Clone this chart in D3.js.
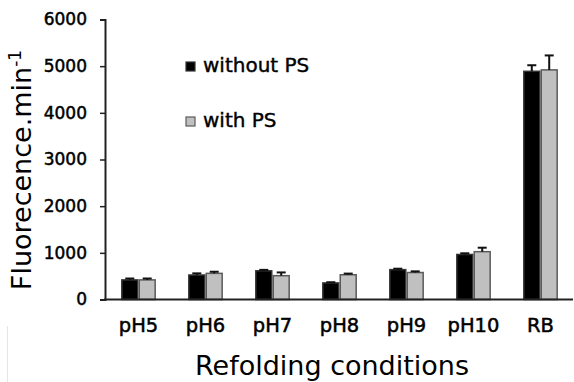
<!DOCTYPE html>
<html>
<head>
<meta charset="utf-8">
<script src="https://cdn.jsdelivr.net/npm/d3@7"></script>
<style>
  body { margin: 0; background: #fff; }
  text { font-family: "DejaVu Sans", sans-serif; fill: #000; }
</style>
</head>
<body>
<svg id="chart" width="574" height="382"></svg>
<script>
// data
var conditions = ["pH5", "pH6", "pH7", "pH8", "pH9", "pH10", "RB"];
var seriesNames = ["without PS", "with PS"];
var withoutPS = [420, 525, 615, 355, 640, 965, 4890];
var withoutPSErr = [30, 35, 20, 15, 20, 25, 130];
var withPS = [420, 560, 510, 530, 578, 1025, 4920];
var withPSErr = [30, 35, 70, 25, 25, 85, 310];
var yTicks = [0, 1000, 2000, 3000, 4000, 5000, 6000];

var colors = ["#000000", "#c0c0c0"];
var strokes = ["#333333", "#5a5a5a"];

var svg = d3.select("#chart");

var x0 = d3.scaleBand()
    .domain(conditions)
    .range([105, 574])
    .paddingInner(0.48)
    .paddingOuter(0.24);

var x1 = d3.scaleBand()
    .domain(seriesNames)
    .range([0, x0.bandwidth()]);

var y = d3.scaleLinear()
    .domain([0, 6000])
    .range([299.5, 19.5]);

var rows = conditions.map(function (c, i) {
    return {
        cond: c,
        vals: [
            { s: seriesNames[0], v: withoutPS[i], e: withoutPSErr[i], k: 0 },
            { s: seriesNames[1], v: withPS[i], e: withPSErr[i], k: 1 }
        ]
    };
});

// bars
var groups = svg.selectAll("g.grp").data(rows).enter()
    .append("g")
    .attr("class", "grp")
    .attr("transform", function (d) { return "translate(" + x0(d.cond) + ",0)"; });

groups.selectAll("rect").data(function (d) { return d.vals; }).enter()
    .append("rect")
    .attr("x", function (d) { return x1(d.s) + 0.75; })
    .attr("y", function (d) { return y(d.v); })
    .attr("width", x1.bandwidth() - 1.5)
    .attr("height", function (d) { return y(0) - y(d.v); })
    .attr("fill", function (d) { return colors[d.k]; })
    .attr("stroke", function (d) { return strokes[d.k]; })
    .attr("stroke-width", 1.5);

// error bars (upper half only)
var err = groups.selectAll("g.err").data(function (d) { return d.vals; }).enter()
    .append("g").attr("class", "err");

err.append("line")
    .attr("x1", function (d) { return x1(d.s) + x1.bandwidth() / 2; })
    .attr("x2", function (d) { return x1(d.s) + x1.bandwidth() / 2; })
    .attr("y1", function (d) { return y(d.v); })
    .attr("y2", function (d) { return y(d.v + d.e); })
    .attr("stroke", "#111")
    .attr("stroke-width", 2);

err.append("line")
    .attr("x1", function (d) { return x1(d.s) + x1.bandwidth() / 2 - 4.5; })
    .attr("x2", function (d) { return x1(d.s) + x1.bandwidth() / 2 + 4.5; })
    .attr("y1", function (d) { return y(d.v + d.e); })
    .attr("y2", function (d) { return y(d.v + d.e); })
    .attr("stroke", "#111")
    .attr("stroke-width", 2);

// y axis
var yAxis = svg.append("g")
    .attr("transform", "translate(105,0)")
    .call(d3.axisLeft(y).tickValues(yTicks).tickFormat(d3.format("d"))
        .tickSize(5).tickPadding(13).tickSizeOuter(5));
yAxis.select(".domain").attr("stroke", "#222").attr("stroke-width", 2);
yAxis.selectAll(".tick line").attr("stroke", "#222").attr("stroke-width", 1.5);
yAxis.selectAll("text")
    .style("font-size", "17px")
    .style("font-family", "'DejaVu Sans', sans-serif")
    .attr("fill", "#000")
    .attr("stroke", "#000")
    .attr("stroke-width", 0.5);

// x axis: line and labels, no tick marks
svg.append("line")
    .attr("x1", 104).attr("x2", 573)
    .attr("y1", y(0)).attr("y2", y(0))
    .attr("stroke", "#222").attr("stroke-width", 2);

svg.selectAll("text.xlab").data(conditions).enter()
    .append("text")
    .attr("class", "xlab")
    .attr("x", function (d) { return x0(d) + x0.bandwidth() / 2; })
    .attr("y", 332)
    .attr("text-anchor", "middle")
    .style("font-size", "19.5px")
    .attr("stroke", "#000")
    .attr("stroke-width", 0.5)
    .text(function (d) { return d; });

// axis titles
svg.append("text")
    .attr("x", 332)
    .attr("y", 375)
    .attr("text-anchor", "middle")
    .style("font-size", "27px")
    .text("Refolding conditions");

var yt = svg.append("text")
    .attr("transform", "translate(31,170) rotate(-90)")
    .attr("text-anchor", "middle")
    .style("font-size", "27px");
yt.append("tspan").text("Fluorecence.min");
yt.append("tspan").attr("baseline-shift", "super").style("font-size", "17px").text("-1");

// legend
var legend = svg.selectAll("g.leg").data(seriesNames).enter()
    .append("g")
    .attr("class", "leg")
    .attr("transform", function (d, i) { return "translate(186," + (62 + i * 55) + ")"; });

legend.append("rect")
    .attr("width", 9).attr("height", 9)
    .attr("fill", function (d, i) { return colors[i]; })
    .attr("stroke", function (d, i) { return strokes[i]; })
    .attr("stroke-width", 1.2);

legend.append("text")
    .attr("x", 17)
    .attr("y", 10)
    .style("font-size", "20px")
    .attr("stroke", "#000")
    .attr("stroke-width", 0.4)
    .text(function (d) { return d; });

// faint scan edge at lower left
svg.append("line")
    .attr("x1", 7.5).attr("x2", 7.5)
    .attr("y1", 326).attr("y2", 382)
    .attr("stroke", "#e6e6e6").attr("stroke-width", 1);
</script>
</body>
</html>
